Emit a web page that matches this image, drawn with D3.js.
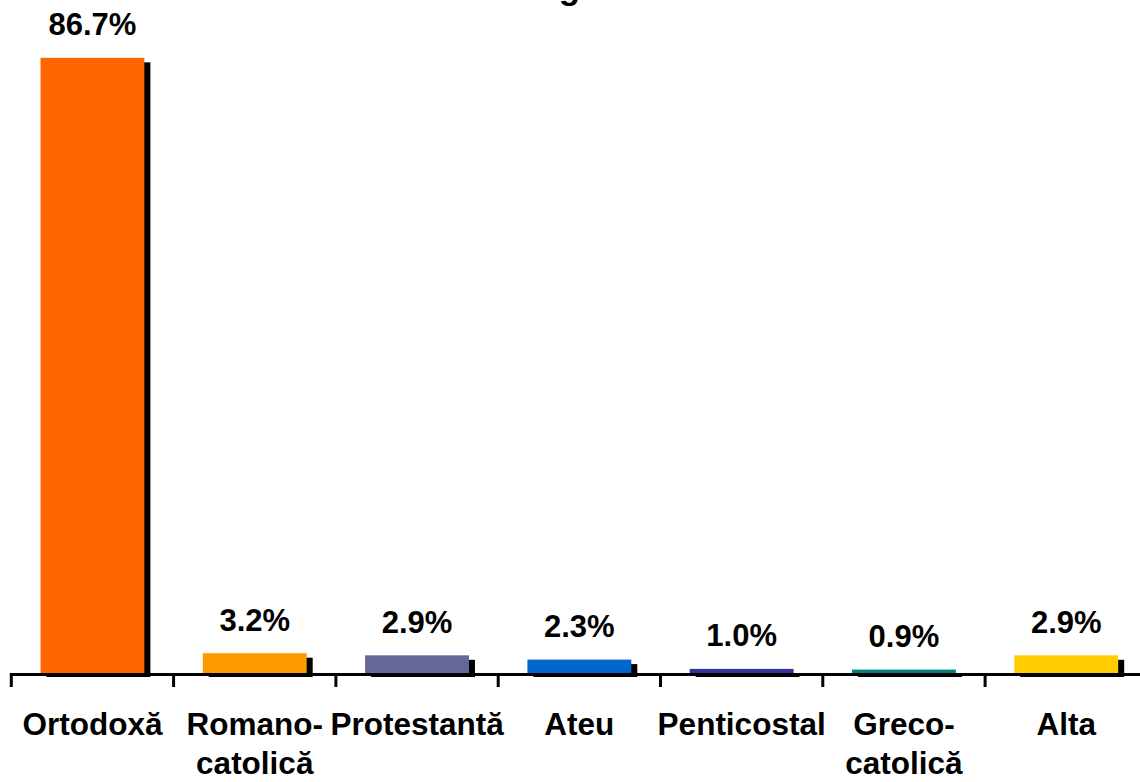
<!DOCTYPE html>
<html>
<head>
<meta charset="utf-8">
<script src="https://cdn.jsdelivr.net/npm/d3@7"></script>
<style>
  html, body { margin: 0; padding: 0; background: #fff; }
  svg { display: block; }
  text { font-family: "Liberation Sans", Arial, sans-serif; font-weight: bold; fill: #000; }
</style>
</head>
<body>
<svg id="chart" width="1140" height="782"></svg>
<script>
const titleText = "Religia";
const categories = [["Ortodoxă"], ["Romano-", "catolică"], ["Protestantă"], ["Ateu"], ["Penticostal"], ["Greco-", "catolică"], ["Alta"]];
const values = [86.7, 3.2, 2.9, 2.3, 1.0, 0.9, 2.9];
const valueLabels = ["86.7%", "3.2%", "2.9%", "2.3%", "1.0%", "0.9%", "2.9%"];
const colors = ["#FF6600", "#FF9900", "#666699", "#0066CC", "#333399", "#008080", "#FFCC00"];

const svg = d3.select("#chart");
const ids = categories.map((c, i) => i);

const left = 11.3, right = 11.3 + 7 * 162.3;
const xCat = d3.scaleBand().domain(ids).range([left, right]).padding(0);
const xBar = d3.scaleBand().domain(ids).range([left, right]).paddingInner(0.36).paddingOuter(0.18);
const y = d3.scaleLinear().domain([0, 90]).range([676, 676 - 90 * 7.13]);

// title (mostly cut off at the top)
svg.append("text")
  .attr("x", 552).attr("y", -1)
  .attr("text-anchor", "middle")
  .style("font-size", "35px")
  .text(titleText);

// shadows (clipped at the axis)
svg.append("g").selectAll("rect").data(ids).join("rect")
  .attr("x", i => xBar(i) + 6)
  .attr("y", i => y(values[i]) + 4.5)
  .attr("width", xBar.bandwidth())
  .attr("height", i => Math.max(0, 677 - (y(values[i]) + 4.5)))
  .attr("fill", "#000");

// bars
svg.append("g").selectAll("rect").data(ids).join("rect")
  .attr("x", i => xBar(i))
  .attr("y", i => y(values[i]))
  .attr("width", xBar.bandwidth())
  .attr("height", i => y(0) - y(values[i]))
  .attr("fill", i => colors[i]);

// axis line
svg.append("line")
  .attr("x1", left).attr("x2", 1140)
  .attr("y1", 674.5).attr("y2", 674.5)
  .attr("stroke", "#000").attr("stroke-width", 3);

// ticks at category boundaries
const boundaries = ids.map(i => xCat(i)).concat([xCat(6) + xCat.step()]);
svg.append("g").selectAll("line").data(boundaries).join("line")
  .attr("x1", d => d).attr("x2", d => d)
  .attr("y1", 673).attr("y2", 687)
  .attr("stroke", "#000").attr("stroke-width", 3);

// value labels
svg.append("g").selectAll("text").data(ids).join("text")
  .attr("x", i => xBar(i) + xBar.bandwidth() / 2)
  .attr("y", i => y(values[i]) - 22.5)
  .attr("text-anchor", "middle")
  .style("font-size", "31px")
  .text(i => valueLabels[i]);

// category labels
const lab = svg.append("g").selectAll("text").data(ids).join("text")
  .attr("text-anchor", "middle")
  .style("font-size", "31.5px");
lab.each(function(i) {
  const t = d3.select(this);
  categories[i].forEach((line, k) => {
    t.append("tspan")
      .attr("x", xCat(i) + xCat.bandwidth() / 2)
      .attr("y", 735 + k * 39)
      .text(line);
  });
});
</script>
</body>
</html>
